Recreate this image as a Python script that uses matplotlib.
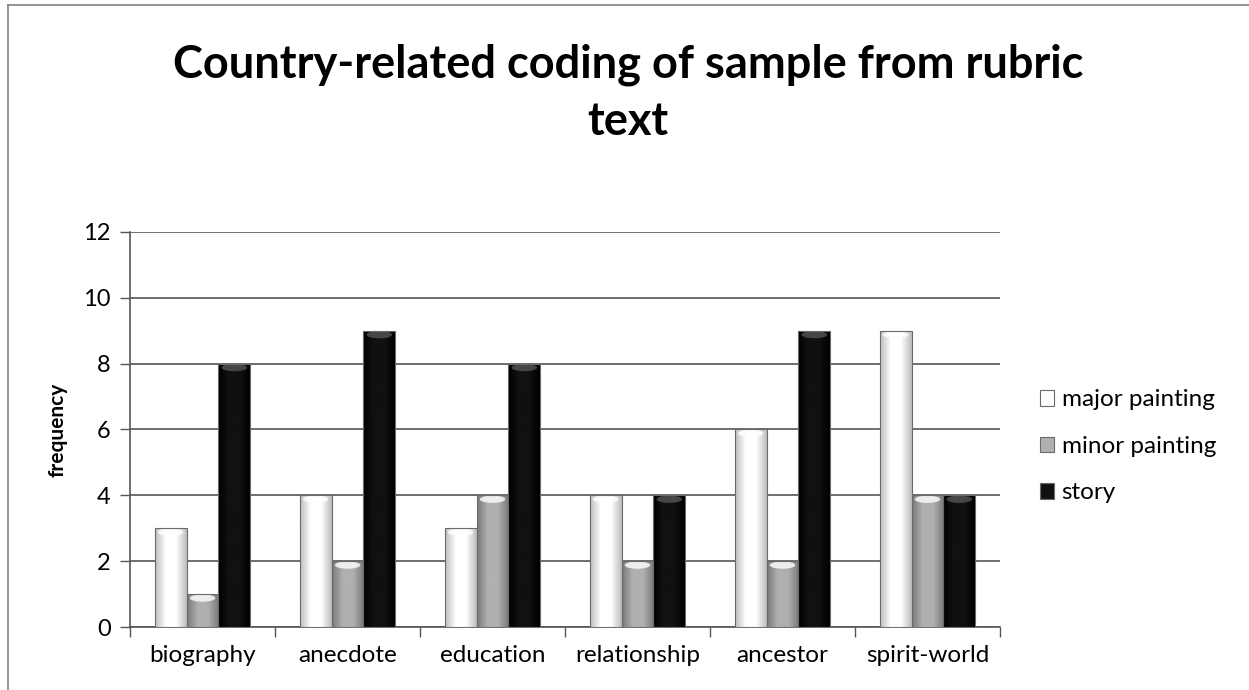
import numpy as np
import matplotlib
matplotlib.use("Agg")
import matplotlib.pyplot as plt
from matplotlib.colors import LinearSegmentedColormap
from matplotlib.patches import Rectangle, Ellipse
from matplotlib.lines import Line2D

categories = ["biography", "anecdote", "education", "relationship", "ancestor", "spirit-world"]
series_names = ["major painting", "minor painting", "story"]
major_painting = [3, 4, 3, 4, 6, 9]
minor_painting = [1, 2, 4, 2, 2, 4]
story = [8, 9, 8, 4, 9, 4]
y_ticks = [0, 2, 4, 6, 8, 10, 12]

plt.rcParams['font.family'] = ['Lato', 'DejaVu Sans']

# edge -> centre colours for the bevelled look of each series
shades = [("#bdbdbd", "#ffffff"), ("#7a7a7a", "#b0b0b0"), ("#000000", "#111111")]

fig = plt.figure(figsize=(12.49, 6.90), dpi=100)
ax = fig.add_axes([0.1041, 0.0913, 0.6965, 0.5725])

# outer chart frame
fig.add_artist(Line2D([0.0065, 0.0065], [0, 0.993], color="#808080", lw=1.2))
fig.add_artist(Line2D([0.0065, 1.0], [0.993, 0.993], color="#808080", lw=1.2))

x = np.arange(len(categories))
width = 0.22
all_series = [major_painting, minor_painting, story]

for i, vals in enumerate(all_series):
    edge_c, mid_c = shades[i]
    cmap = LinearSegmentedColormap.from_list("b%d" % i, [edge_c, mid_c, mid_c, edge_c])
    grad = np.linspace(0, 1, 64).reshape(1, -1)
    for xi, v in zip(x, vals):
        x0 = xi + (i - 1) * width - width / 2
        rect = Rectangle((x0, 0), width, v, facecolor=mid_c, edgecolor="none", zorder=3)
        ax.add_patch(rect)
        im = ax.imshow(grad, cmap=cmap, aspect="auto", extent=(x0, x0 + width, 0, v),
                       zorder=3.5, interpolation="bicubic")
        im.set_clip_path(rect)
        # lighter dip at the top of each bar
        cap_c = "#ffffff" if i < 2 else "#555555"
        cap = Ellipse((x0 + width / 2, v - 0.12), width * 0.8, 0.22,
                      facecolor=cap_c, edgecolor="none", alpha=0.8, zorder=3.8)
        ax.add_patch(cap)
        cap.set_clip_path(rect)
        edge = Rectangle((x0, 0), width, v, facecolor="none", edgecolor="#6a6a6a",
                         lw=0.8, zorder=4)
        ax.add_patch(edge)

ax.set_xlim(-0.5, len(categories) - 0.5)
ax.set_ylim(0, 12)
ax.set_yticks(y_ticks)
ax.tick_params(axis="y", labelsize=17, length=7, width=1, color="#555555", pad=7)
ax.set_xticks(x)
ax.set_xticklabels(categories, fontsize=17.5)
ax.tick_params(axis="x", length=0, pad=13)
# category boundary ticks on the x axis
ax.set_xticks(np.arange(-0.5, len(categories) + 0.5, 1), minor=True)
ax.tick_params(axis="x", which="minor", length=7, width=1, color="#555555")

ax.yaxis.grid(True, color="#555555", lw=1.2, zorder=0)
ax.set_axisbelow(True)
for s in ["top", "right"]:
    ax.spines[s].set_visible(False)
for s in ["left", "bottom"]:
    ax.spines[s].set_color("#555555")
    ax.spines[s].set_linewidth(1.2)

ax.set_ylabel("frequency", fontsize=15, fontweight="bold", labelpad=11)

fig.text(0.503, 0.937, "Country-related coding of sample from rubric\ntext",
         ha="center", va="top", fontsize=32.5, fontweight="bold", linespacing=1.45)

handles = [Rectangle((0, 0), 1, 1, facecolor=shades[k][1], edgecolor="#6a6a6a", lw=0.8)
           for k in range(3)]
fig.legend(handles, series_names, loc="center left", bbox_to_anchor=(0.815, 0.353),
           frameon=False, fontsize=17.5, handlelength=0.6, handleheight=0.6,
           handletextpad=0.3, labelspacing=1.05)

fig.savefig("out.png", dpi=100, facecolor="white")
